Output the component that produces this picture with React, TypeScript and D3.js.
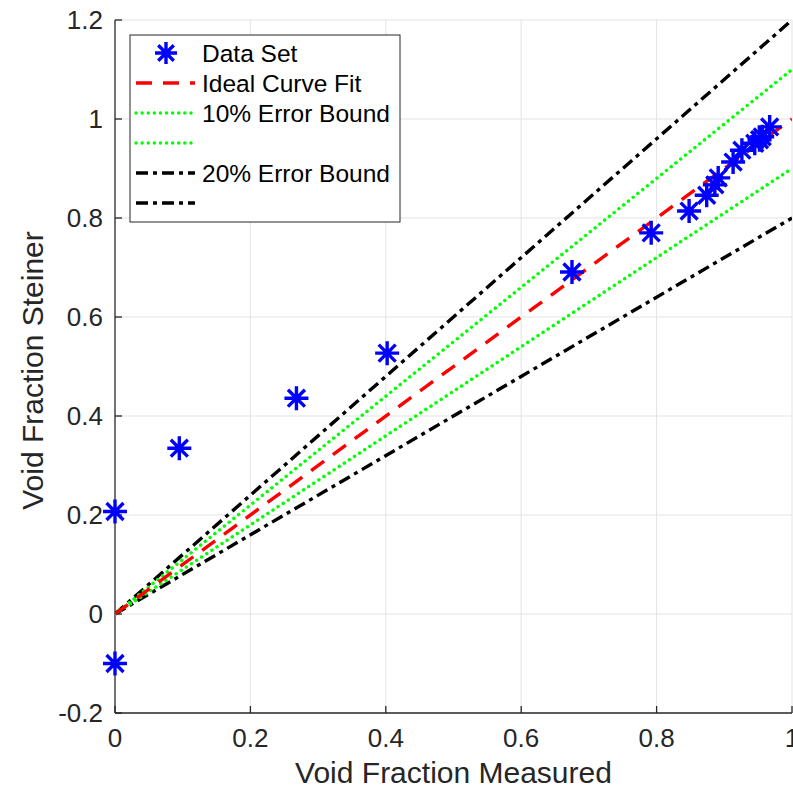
import { useEffect, useRef } from 'react';
import * as d3 from 'd3';

// measured void fraction vs Steiner prediction
const measured = [0, 0, 0.095, 0.268, 0.402, 0.675, 0.792, 0.848, 0.874, 0.886, 0.891, 0.913, 0.926, 0.945, 0.952, 0.956, 0.967];
const steiner = [-0.1, 0.207, 0.335, 0.436, 0.527, 0.691, 0.77, 0.814, 0.846, 0.867, 0.881, 0.913, 0.937, 0.951, 0.958, 0.964, 0.984];

const xTicks = [0, 0.2, 0.4, 0.6, 0.8, 1];
const yTicks = [-0.2, 0, 0.2, 0.4, 0.6, 0.8, 1, 1.2];

const DASH_RED = '16,11';
const DOT_GREEN = '0.1,6';
const DASHDOT_BLACK = '12,5,4,5';

// reference lines y = k * x
const boundLines = [
  { k: 1.2, color: '#000000', dash: DASHDOT_BLACK },
  { k: 0.8, color: '#000000', dash: DASHDOT_BLACK },
  { k: 1.1, color: '#00ff00', dash: DOT_GREEN },
  { k: 0.9, color: '#00ff00', dash: DOT_GREEN },
  { k: 1.0, color: '#ff0000', dash: DASH_RED },
];

const legendItems = [
  { label: 'Data Set', type: 'marker' },
  { label: 'Ideal Curve Fit', type: 'line', color: '#ff0000', dash: DASH_RED },
  { label: '10% Error Bound', type: 'line', color: '#00ff00', dash: DOT_GREEN },
  { label: '', type: 'line', color: '#00ff00', dash: DOT_GREEN },
  { label: '20% Error Bound', type: 'line', color: '#000000', dash: DASHDOT_BLACK },
  { label: '', type: 'line', color: '#000000', dash: DASHDOT_BLACK },
];

const font = 'Helvetica, "Liberation Sans", Arial, sans-serif';
const fmt = (d: number) => String(d); // keep plain hyphen for negatives like the original

const App = () => {
  const svgRef = useRef<SVGSVGElement>(null);

  useEffect(() => {
    const width = 793;
    const height = 789;
    const margin = { top: 20, right: 1, bottom: 76, left: 115 };

    const svg = d3.select(svgRef.current).attr('width', width).attr('height', height);
    svg.selectAll('*').remove();

    const x = d3.scaleLinear().domain([0, 1]).range([margin.left, margin.left + 677]);
    const y = d3.scaleLinear().domain([-0.2, 1.2]).range([height - margin.bottom, margin.top]);

    svg.append('rect').attr('width', width).attr('height', height).attr('fill', '#fff');

    svg.append('clipPath').attr('id', 'plot-clip')
      .append('rect')
      .attr('x', x(0)).attr('y', y(1.2))
      .attr('width', x(1) - x(0)).attr('height', y(-0.2) - y(1.2));

    // grid
    const grid = svg.append('g').attr('stroke', '#e3e3e3').attr('stroke-width', 1);
    grid.selectAll('.gx').data(xTicks.slice(1)).enter().append('line')
      .attr('x1', d => x(d)).attr('x2', d => x(d))
      .attr('y1', y(-0.2)).attr('y2', y(1.2));
    grid.selectAll('.gy').data(yTicks.slice(1)).enter().append('line')
      .attr('x1', x(0)).attr('x2', x(1))
      .attr('y1', d => y(d)).attr('y2', d => y(d));

    // axes
    const axisColor = '#262626';
    svg.append('line').attr('x1', x(0)).attr('x2', x(1)).attr('y1', y(-0.2)).attr('y2', y(-0.2))
      .attr('stroke', axisColor).attr('stroke-width', 1.3);
    svg.append('line').attr('x1', x(0)).attr('x2', x(0)).attr('y1', y(-0.2)).attr('y2', y(1.2))
      .attr('stroke', axisColor).attr('stroke-width', 1.3);

    svg.selectAll('.xtick').data(xTicks).enter().append('line')
      .attr('x1', d => x(d)).attr('x2', d => x(d))
      .attr('y1', y(-0.2)).attr('y2', y(-0.2) - 7)
      .attr('stroke', axisColor).attr('stroke-width', 1.3);
    svg.selectAll('.ytick').data(yTicks).enter().append('line')
      .attr('x1', x(0)).attr('x2', x(0) + 7)
      .attr('y1', d => y(d)).attr('y2', d => y(d))
      .attr('stroke', axisColor).attr('stroke-width', 1.3);

    svg.selectAll('.xlabel').data(xTicks).enter().append('text')
      .attr('x', d => x(d)).attr('y', 747)
      .attr('text-anchor', 'middle')
      .style('font-family', font).style('font-size', '26px').style('fill', '#262626')
      .text(fmt);
    svg.selectAll('.ylabel').data(yTicks).enter().append('text')
      .attr('x', x(0) - 12).attr('y', d => y(d))
      .attr('text-anchor', 'end').attr('dominant-baseline', 'central')
      .style('font-family', font).style('font-size', '26px').style('fill', '#262626')
      .text(fmt);

    svg.append('text')
      .attr('x', (x(0) + x(1)) / 2).attr('y', 783)
      .attr('text-anchor', 'middle')
      .style('font-family', font).style('font-size', '30px').style('fill', '#262626')
      .text('Void Fraction Measured');
    svg.append('text')
      .attr('transform', `translate(43, ${(y(-0.2) + y(1.2)) / 2 + 4}) rotate(-90)`)
      .attr('text-anchor', 'middle')
      .style('font-family', font).style('font-size', '30px').style('fill', '#262626')
      .text('Void Fraction Steiner');

    // bound lines
    const plot = svg.append('g').attr('clip-path', 'url(#plot-clip)');
    plot.selectAll('.bound').data(boundLines).enter().append('line')
      .attr('x1', x(0)).attr('y1', y(0))
      .attr('x2', x(1)).attr('y2', d => y(d.k))
      .attr('stroke', d => d.color)
      .attr('stroke-width', 3.4)
      .attr('stroke-linecap', d => (d.dash === DOT_GREEN ? 'round' : 'butt'))
      .attr('stroke-dasharray', d => d.dash);

    // asterisk markers
    const star = (g: any, cx: number, cy: number, r: number) => {
      const a = r * Math.SQRT1_2;
      const path = `M${cx - r},${cy}L${cx + r},${cy}M${cx},${cy - r}L${cx},${cy + r}` +
        `M${cx - a},${cy - a}L${cx + a},${cy + a}M${cx - a},${cy + a}L${cx + a},${cy - a}`;
      g.append('path').attr('d', path).attr('stroke', '#0000ff').attr('stroke-width', 3.4).attr('fill', 'none');
    };
    const pts = svg.append('g');
    measured.forEach((m, i) => star(pts, x(m), y(steiner[i]), 12));

    // legend
    const lx = 130, ly = 35, lw = 270, lh = 187;
    const legend = svg.append('g');
    legend.append('rect').attr('x', lx).attr('y', ly).attr('width', lw).attr('height', lh)
      .attr('fill', '#fff').attr('stroke', '#262626').attr('stroke-width', 1);
    legendItems.forEach((item, i) => {
      const cy = 53 + i * 30;
      if (item.type === 'marker') {
        star(legend, 166, cy, 11);
      } else {
        legend.append('line').attr('x1', 136).attr('x2', 195).attr('y1', cy).attr('y2', cy)
          .attr('stroke', item.color!).attr('stroke-width', 3.4)
          .attr('stroke-linecap', item.dash === DOT_GREEN ? 'round' : 'butt')
          .attr('stroke-dasharray', item.dash!);
      }
      if (item.label) {
        legend.append('text').attr('x', 202).attr('y', cy).attr('dominant-baseline', 'central')
          .style('font-family', font).style('font-size', '24.5px').style('fill', '#000')
          .text(item.label);
      }
    });
  }, []);

  return <svg ref={svgRef} style={{ position: 'absolute', left: 0, top: 0 }} />;
};

export default App;
